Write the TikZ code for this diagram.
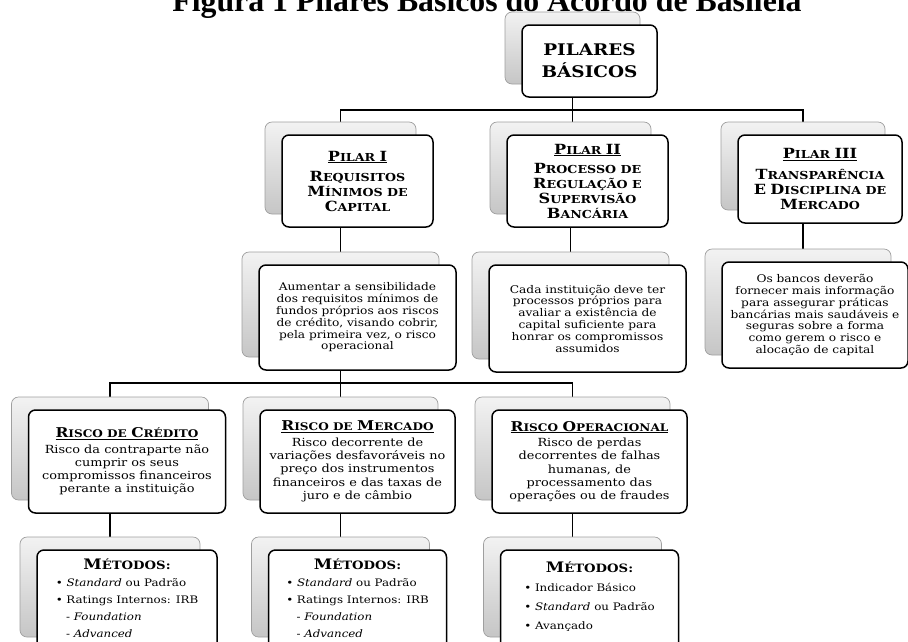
\documentclass[tikz,border=0pt]{standalone}
\usepackage{fontspec}
\setmainfont[FakeStretch=1.15]{DejaVu Serif}
\newfontfamily\titlefont{Liberation Serif}
\usetikzlibrary{positioning,shadows,backgrounds}
\tikzset {
  every node/.style={font=\fontsize{10.6}{11.8}\selectfont},
  frontbox/.style={draw, line width=1.5pt, rounded corners=7pt, fill=white,
    align=center, inner sep=2pt,
    copy shadow={shadow xshift=-17pt, shadow yshift=13pt, draw=gray!75,
      line width=0.7pt, top color=gray!10, bottom color=gray!45}},
  pilarbox/.style={frontbox, font=\bfseries\fontsize{11}{15}\selectfont},
  riscobox/.style={frontbox, minimum height=103, font=\fontsize{11.2}{13.3}\selectfont},
  metbox/.style={frontbox, minimum height=100, font=\fontsize{10.3}{17}\selectfont},
  link/.style={line width=1.4pt},
}
\def\capbig{14}
\def\capsmall{11}
\newcommand\capa[2]{{\fontsize{\capbig}{15}\selectfont #1}{\fontsize{\capsmall}{15}\selectfont #2}}

\begin{document}
\begin{tikzpicture}[x=1pt,y=-1pt]
          \useasboundingbox (0,0) rectangle (908,641);
          \node[font=\titlefont\bfseries\fontsize{31.8}{34}\selectfont, anchor=base] (title) at (487,11)
            {Figura 1 Pilares Básicos do Acordo de Basileia};

          % top of the tree
          \node[frontbox, minimum width=135, minimum height=72,
                font=\bfseries\fontsize{16}{22}\selectfont] (top) at (589.5,61)
            {PILARES\\BÁSICOS};

          % the three pillars
          \node[pilarbox, minimum width=151, minimum height=92] (pilarI) at (357.5,181)
            {\underline{\capa{P}{ILAR} \capa{I}{}}\\[5pt]
             \capa{R}{EQUISITOS}\\\capa{M}{ÍNIMOS DE}\\\capa{C}{APITAL}};
          \node[pilarbox, minimum width=161, minimum height=92] (pilarII) at (587.5,181)
            {\underline{\capa{P}{ILAR} \capa{II}{}}\\[4pt]
             \capa{P}{ROCESSO DE}\\\capa{R}{EGULAÇÃO E}\\\capa{S}{UPERVISÃO}\\\capa{B}{ANCÁRIA}};
          \node[pilarbox, minimum width=164, minimum height=88] (pilarIII) at (820,179)
            {\underline{\capa{P}{ILAR} \capa{III}{}}\\[6pt]
             \capa{T}{RANSPARÊNCIA}\\\capa{E}{} \capa{D}{ISCIPLINA DE}\\\capa{M}{ERCADO}};

          \node[frontbox, minimum width=197, minimum height=105] (descI) at (357.5,317.5)
            {Aumentar a sensibilidade\\dos requisitos mínimos de\\fundos próprios aos riscos\\
             de crédito, visando cobrir,\\pela primeira vez, o risco\\operacional};
          \node[frontbox, minimum width=197, minimum height=107] (descII) at (587.5,318.5)
            {Cada instituição deve ter\\processos próprios para\\avaliar a existência de\\
             capital suficiente para\\honrar os compromissos\\assumidos};
          \node[frontbox, minimum width=186, minimum height=106] (descIII) at (815,315)
            {Os bancos deverão\\fornecer mais informação\\para assegurar práticas\\
             bancárias mais saudáveis e\\seguras sobre a forma\\como gerem o risco e\\alocação de capital};

          % the three risks
          \def\capbig{13.5}\def\capsmall{10.5}
          \node[riscobox, minimum width=197] (riscoC) at (127,461.5)
            {\bfseries\underline{\capa{R}{ISCO DE} \capa{C}{RÉDITO}}\\[2pt]
             Risco da contraparte não\\cumprir os seus\\compromissos financeiros\\perante a instituição};
          \node[riscobox, minimum width=195] (riscoM) at (357.5,461.5)
            {\bfseries\underline{\capa{R}{ISCO DE} \capa{M}{ERCADO}}\\[2pt]
             Risco decorrente de\\variações desfavoráveis no\\preço dos instrumentos\\
             financeiros e das taxas de\\juro e de câmbio};
          \node[riscobox, minimum width=195] (riscoO) at (589.5,461.5)
            {\bfseries\underline{\capa{R}{ISCO} \capa{O}{PERACIONAL}}\\[2pt]
             Risco de perdas\\decorrentes de falhas\\humanas, de\\processamento das\\operações ou de fraudes};

          % methods
          \node[metbox, minimum width=180] (metC) at (127,600)
            {\begin{tabular}{@{}l@{}}
             \multicolumn{1}{c}{\bfseries\fontsize{14.5}{17}\selectfont M{\fontsize{11.5}{17}\selectfont ÉTODOS:}}\\
             • \textit{Standard} ou Padrão\\• Ratings Internos: IRB\\
             \quad - \textit{Foundation}\\\quad - \textit{Advanced}
             \end{tabular}};
          \node[metbox, minimum width=178] (metM) at (357.5,600)
            {\begin{tabular}{@{}l@{}}
             \multicolumn{1}{c}{\bfseries\fontsize{14.5}{17}\selectfont M{\fontsize{11.5}{17}\selectfont ÉTODOS:}}\\
             • \textit{Standard} ou Padrão\\• Ratings Internos: IRB\\
             \quad - \textit{Foundation}\\\quad - \textit{Advanced}
             \end{tabular}};
          \node[metbox, minimum width=178, font=\fontsize{10.3}{19}\selectfont] (metO) at (589.5,600)
            {\begin{tabular}{@{}l@{}}
             \multicolumn{1}{c}{\bfseries\fontsize{14.5}{19}\selectfont M{\fontsize{11.5}{19}\selectfont ÉTODOS:}}\\
             • Indicador Básico\\• \textit{Standard} ou Padrão\\• Avançado\\[6pt]
             \end{tabular}};

          % connectors run between the centres of the back cards
          \foreach \n in {top,pilarI,pilarII,pilarIII,descI,descII,descIII,riscoC,riscoM,riscoO,metC,metM,metO}
            \coordinate (\n S) at ([xshift=-17pt]\n.center);
          \coordinate (busA) at (0,110);
          \coordinate (busB) at (0,383);
          \begin{scope}[on background layer]
            \draw[link] (topS) |- (busA -| pilarIS) -- (pilarIS);
            \draw[link] (topS) |- (busA -| pilarIIIS) -- (pilarIIIS);
            \draw[link] (topS) -- (topS |- pilarIIS);
            \draw[link] (pilarIS) -- (descIS);
            \draw[link] (pilarIIS) -- (descIIS);
            \draw[link] (pilarIIIS) -- (pilarIIIS |- descIIIS);
            \draw[link] (descIS) |- (busB -| riscoCS) -- (riscoCS);
            \draw[link] (descIS) |- (busB -| riscoOS) -- (riscoOS);
            \draw[link] (descIS) -- (riscoMS);
            \draw[link] (riscoCS) -- (metCS);
            \draw[link] (riscoMS) -- (metMS);
            \draw[link] (riscoOS) -- (metOS);
          \end{scope}
        \end{tikzpicture}
\end{document}
